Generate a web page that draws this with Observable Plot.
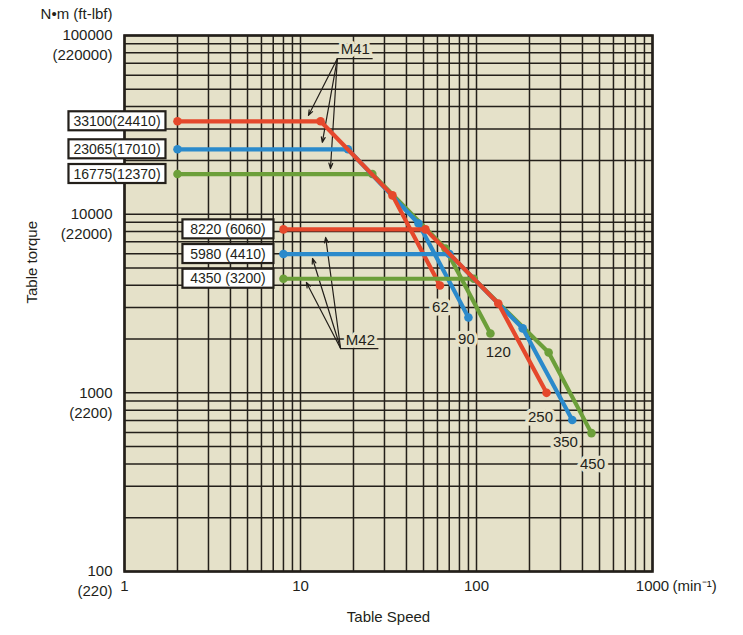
<!DOCTYPE html>
<html>
<head>
<meta charset="utf-8">
<script src="https://cdn.jsdelivr.net/npm/d3@7"></script>
<script src="https://cdn.jsdelivr.net/npm/@observablehq/plot@0.6"></script>
<style>
  html, body { margin: 0; padding: 0; background: #ffffff; }
  #chart svg { display: block; }
</style>
</head>
<body>
<div id="chart"></div>
<script>
// ---- Data ----
// Series: table speed (min^-1) vs table torque (N·m)
const m41RedSpeed    = [2, 13, 33.3, 62];
const m41RedTorque   = [33100, 33100, 12740, 3990];
const m41BlueSpeed   = [2, 18.6, 46.8, 90];
const m41BlueTorque  = [23065, 23065, 8870, 2640];
const m41GreenSpeed  = [2, 25.6, 66.6, 120];
const m41GreenTorque = [16775, 16775, 6430, 2150];

const m42RedSpeed    = [8, 51.3, 133, 250];
const m42RedTorque   = [8220, 8220, 3160, 1000];
const m42BlueSpeed   = [8, 70.2, 183, 350];
const m42BlueTorque  = [5980, 5980, 2295, 705];
const m42GreenSpeed  = [8, 96.6, 257, 450];
const m42GreenTorque = [4350, 4350, 1683, 595];

// Boxed rated-torque labels, N·m (ft-lbf)
const m41BoxLabels = ["33100(24410)", "23065(17010)", "16775(12370)"];
const m41BoxTorque = [33100, 23065, 16775];
const m42BoxLabels = ["8220 (6060)", "5980 (4410)", "4350 (3200)"];
const m42BoxTorque = [8220, 5980, 4350];

// Max-speed labels at ends of curves
const endLabelText   = ["62", "90", "120", "250", "350", "450"];
const endLabelSpeed  = [62.4, 87.7, 133, 231, 320, 456];
const endLabelTorque = [3000, 2000, 1683, 735, 527, 400];

// Axis tick labels
const xTickValues = [1, 10, 100, 1000];
const xTickLabels = ["1", "10", "100", "1000"];
const yTickValues = [100, 1000, 10000, 100000];
const yTickNm     = ["100", "1000", "10000", "100000"];
const yTickFtLbf  = ["(220)", "(2200)", "(22000)", "(220000)"];

// Callout annotations (data coordinates)
const calloutNames  = ["M41", "M42"];
const calloutTextX  = [20.5, 21.9];
const calloutTextY  = [83600, 1963];
const calloutOrigX  = [16.2, 16.9];
const calloutOrigY  = [74300, 1770];
const calloutLineX2 = [25.7, 27.7];
const m41ArrowTipX  = [11.1, 13.3, 14.8];
const m41ArrowTipY  = [35700, 25200, 18000];
const m42ArrowTipX  = [13.9, 11.7, 10.8];
const m42ArrowTipY  = [7410, 5650, 4150];

// ---- Styles ----
const RED = "#e5482c", BLUE = "#2b8acb", GREEN = "#6c9f3a";
const BG = "#e5e1c9", INK = "#231f1a";
const FONT = "'Liberation Sans', Arial, Helvetica, sans-serif";

// ---- Build tables ----
const zip = (xs, ys) => xs.map((x, i) => ({speed: x, torque: ys[i]}));
// draw order: green, blue, red (red on top), M41 then M42
const series = [
  {rows: zip(m41GreenSpeed, m41GreenTorque), color: GREEN},
  {rows: zip(m41BlueSpeed, m41BlueTorque), color: BLUE},
  {rows: zip(m41RedSpeed, m41RedTorque), color: RED},
  {rows: zip(m42GreenSpeed, m42GreenTorque), color: GREEN},
  {rows: zip(m42BlueSpeed, m42BlueTorque), color: BLUE},
  {rows: zip(m42RedSpeed, m42RedTorque), color: RED}
];

const xGrid = [];
for (let e = 0; e < 3; e++) for (let m = 1; m < 10; m++) xGrid.push(m * Math.pow(10, e));
xGrid.push(1000);
const yGrid = [];
for (let e = 2; e < 5; e++) for (let m = 1; m < 10; m++) yGrid.push(m * Math.pow(10, e));
yGrid.push(100000);

const m41Boxes = m41BoxLabels.map((t, i) => ({label: t, speed: m41RedSpeed[0], torque: m41BoxTorque[i]}));
const m42Boxes = m42BoxLabels.map((t, i) => ({label: t, speed: m42RedSpeed[0], torque: m42BoxTorque[i]}));
const endLabels = endLabelText.map((t, i) => ({t, x: endLabelSpeed[i], y: endLabelTorque[i]}));
const yTicks = yTickValues.map((v, i) => ({v, nm: yTickNm[i], ft: yTickFtLbf[i]}));
const xTicks = xTickValues.map((v, i) => ({v, t: xTickLabels[i]}));
const callouts = calloutNames.map((n, i) => ({n, tx: calloutTextX[i], ty: calloutTextY[i], ox: calloutOrigX[i], oy: calloutOrigY[i], x2: calloutLineX2[i]}));
const arrows = [
  ...m41ArrowTipX.map((x, i) => ({x1: calloutOrigX[0], y1: calloutOrigY[0], x2: x, y2: m41ArrowTipY[i]})),
  ...m42ArrowTipX.map((x, i) => ({x1: calloutOrigX[1], y1: calloutOrigY[1], x2: x, y2: m42ArrowTipY[i]}))
];

const chart = Plot.plot({
  width: 743,
  height: 635,
  marginLeft: 124,
  marginRight: 91,
  marginTop: 35,
  marginBottom: 64,
  style: {fontFamily: FONT, fontSize: "15px", background: "#ffffff", color: INK, overflow: "visible"},
  x: {type: "log", domain: [1, 1000], axis: null},
  y: {type: "log", domain: [100, 100000], axis: null},
  marks: [
    Plot.frame({fill: BG, stroke: "none"}),
    Plot.ruleX(xGrid, {stroke: INK, strokeWidth: 1.5}),
    Plot.ruleY(yGrid, {stroke: INK, strokeWidth: 1.5}),
    Plot.frame({stroke: INK, strokeWidth: 2.6}),
    // callouts
    Plot.link(callouts, {x1: "ox", y1: "oy", x2: "x2", y2: "oy", stroke: INK, strokeWidth: 1.2}),
    Plot.arrow(arrows, {x1: "x1", y1: "y1", x2: "x2", y2: "y2", stroke: INK, strokeWidth: 1.2, headLength: 7, headAngle: 40}),
    Plot.text(callouts, {x: "tx", y: "ty", text: "n", fontSize: 15, fill: INK, stroke: BG, strokeWidth: 6, paintOrder: "stroke"}),
    // curves
    ...series.flatMap(s => [
      Plot.line(s.rows, {x: "speed", y: "torque", stroke: s.color, strokeWidth: 4.2, strokeLinejoin: "round", strokeLinecap: "round"}),
      Plot.dot(s.rows, {x: "speed", y: "torque", r: 4.3, fill: s.color, stroke: "none"})
    ]),
    // max-speed labels
    Plot.text(endLabels, {x: "x", y: "y", text: "t", fontSize: 15, fill: INK, stroke: BG, strokeWidth: 7, paintOrder: "stroke"}),
    // boxed labels
    Plot.text(m41Boxes, {x: "speed", y: "torque", text: "label", dx: -60.5, fontSize: 14, fill: INK}),
    Plot.text(m42Boxes, {x: "speed", y: "torque", text: "label", dx: -55.5, fontSize: 14, fill: INK}),
    // y axis labels
    Plot.text(yTicks, {x: () => 1, y: "v", text: "nm", dx: -12, textAnchor: "end", fontSize: 15, fill: INK}),
    Plot.text(yTicks, {x: () => 1, y: "v", text: "ft", dx: -12, dy: 20, textAnchor: "end", fontSize: 15, fill: INK}),
    // x axis labels
    Plot.text(xTicks, {x: "v", text: "t", frameAnchor: "bottom", dy: 19, fontSize: 15, fill: INK}),
    Plot.text(["(min⁻¹)"], {x: () => 1000, text: d => d, frameAnchor: "bottom", dy: 19, dx: 20, textAnchor: "start", fontSize: 15, fill: INK}),
    // titles
    Plot.text(["Table Speed"], {text: d => d, frameAnchor: "bottom", dy: 50, fontSize: 15, fill: INK}),
    Plot.text(["Table torque"], {text: d => d, frameAnchor: "left", dx: -92, rotate: -90, fontSize: 15, fill: INK}),
    Plot.text(["N•m (ft-lbf)"], {text: d => d, frameAnchor: "top-left", lineAnchor: "middle", dx: -12, dy: -21, textAnchor: "end", fontSize: 15, fill: INK})
  ]
});

document.getElementById("chart").append(chart);

// Draw the boxes behind the boxed labels
const boxWidth = new Map([...m41BoxLabels.map(t => [t, 97]), ...m42BoxLabels.map(t => [t, 91])]);
chart.querySelectorAll("text").forEach(t => {
  const txt = t.textContent;
  if (!boxWidth.has(txt)) return;
  const bb = t.getBBox();
  const w = boxWidth.get(txt), h = 19;
  const r = document.createElementNS("http://www.w3.org/2000/svg", "rect");
  r.setAttribute("x", bb.x + bb.width / 2 - w / 2);
  r.setAttribute("y", bb.y + bb.height / 2 - h / 2);
  r.setAttribute("width", w);
  r.setAttribute("height", h);
  r.setAttribute("fill", "#ffffff");
  r.setAttribute("stroke", INK);
  r.setAttribute("stroke-width", 2.2);
  const tr = t.getAttribute("transform");
  if (tr) r.setAttribute("transform", tr);
  t.parentNode.insertBefore(r, t);
});
</script>
</body>
</html>
